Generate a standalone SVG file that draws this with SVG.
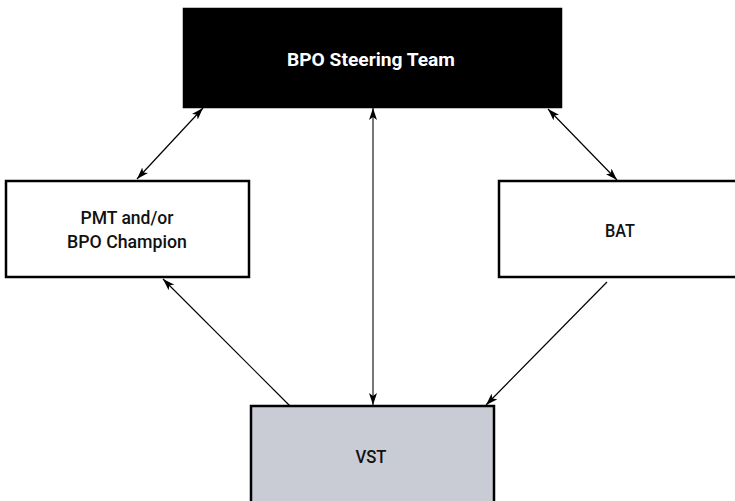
<svg xmlns="http://www.w3.org/2000/svg" width="735" height="501" viewBox="0 0 735 501">
  <style>
    .box { stroke: #000; stroke-width: 2.5; }
    .lbl { font-family: Roboto, "Liberation Sans", sans-serif; font-weight: 500; font-size: 19px; fill: #111; text-anchor: middle; }
    .title { font-weight: 700; fill: #fff; }
    .conn { stroke: #000; stroke-width: 1.2; fill: none; }
    .mid { stroke: #555; stroke-width: 1.6; }
  </style>
  <defs>
    <marker id="arrow" viewBox="0 0 12 8" refX="12" refY="4" markerWidth="12" markerHeight="8" markerUnits="userSpaceOnUse" orient="auto-start-reverse">
      <path d="M0,0 L12,4 L0,8 L3,4 z" fill="#000"/>
    </marker>
  </defs>
  <rect width="735" height="501" fill="#fff"/>

  <g id="connectors">
    <line class="conn" x1="203" y1="108" x2="137" y2="179" marker-start="url(#arrow)" marker-end="url(#arrow)"/>
    <line class="conn" x1="548" y1="109" x2="617" y2="180" marker-start="url(#arrow)" marker-end="url(#arrow)"/>
    <line class="conn mid" x1="373" y1="108" x2="373" y2="405" marker-start="url(#arrow)" marker-end="url(#arrow)"/>
    <line class="conn" x1="290" y1="406" x2="163" y2="279" marker-end="url(#arrow)"/>
    <line class="conn" x1="607" y1="282" x2="486" y2="405" marker-end="url(#arrow)"/>
  </g>

  <g id="steering">
    <rect class="box" x="184" y="9" width="377" height="98" fill="#000"/>
    <text class="lbl title" x="371" y="66" textLength="168" lengthAdjust="spacingAndGlyphs">BPO Steering Team</text>
  </g>

  <g id="pmt">
    <rect class="box" x="6" y="181" width="243" height="96" fill="#fff"/>
    <text class="lbl" x="127" y="224" textLength="93" lengthAdjust="spacingAndGlyphs">PMT and/or</text>
    <text class="lbl" x="127" y="248" textLength="120" lengthAdjust="spacingAndGlyphs">BPO Champion</text>
  </g>

  <g id="bat">
    <rect class="box" x="499" y="181" width="250" height="96" fill="#fff"/>
    <text class="lbl" x="620" y="237" textLength="30" lengthAdjust="spacingAndGlyphs">BAT</text>
  </g>

  <g id="vst">
    <rect class="box" x="251" y="406" width="243" height="110" fill="#c9ccd4"/>
    <text class="lbl" x="371" y="463" textLength="31" lengthAdjust="spacingAndGlyphs">VST</text>
  </g>
</svg>
